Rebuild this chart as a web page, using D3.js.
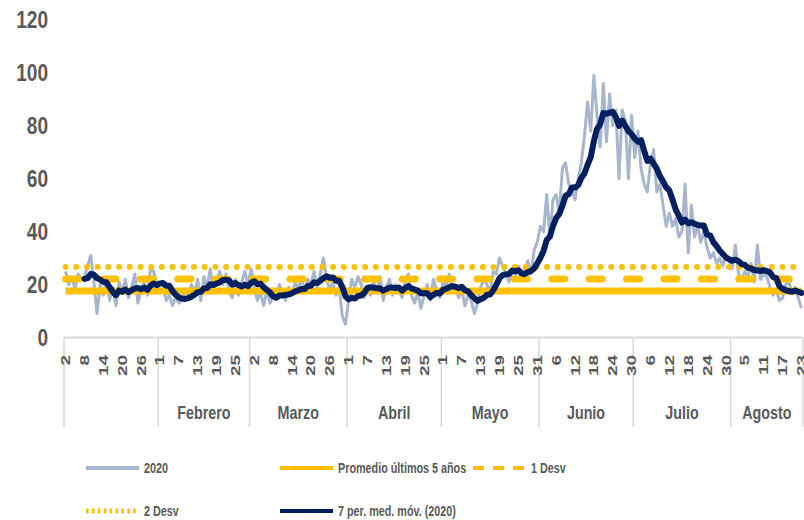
<!DOCTYPE html>
<html>
<head>
<meta charset="utf-8">
<script src="https://cdn.jsdelivr.net/npm/d3@7"></script>
<style>
	body { margin: 0; background: #fff; }
	svg { display: block; }
	text { font-family: "Liberation Sans", Arial, sans-serif; font-weight: bold; fill: #595959; }
</style>
</head>
<body>
<svg id="chart" width="804" height="520"></svg>
<script>
//Categories: every day from 2 Jan to 23 Aug 2020
var days = d3.timeDay.range(new Date(2020, 0, 2), new Date(2020, 7, 24));
var monthNames = ["", "Febrero", "Marzo", "Abril", "Mayo", "Junio", "Julio", "Agosto"];
var yTicks = [0, 20, 40, 60, 80, 100, 120];

//Daily values 2020
var values2020 = [
	25,20,23,18,24,22,23,27,31,21, 9,20,16,22,14,19,12,21,17,22, 15,19,24,13,18,21,16,26,25,20,
	17,19,14,16,12,15,13,14,18,16, 20,17,22,14,23,19,26,18,21,25, 20,24,17,15,22,16,21,25,20,
	26,19,14,17,12,18,13,16,15,20, 17,14,19,16,21,18,23,17,22,20, 25,19,24,30,22,18,21,16,19,8, 5,
	14,22,19,23,20,15,18,16,21,17, 23,14,19,22,16,20,18,15,21,24, 16,13,17,11,16,20,14,22,18,15,
	21,19,24,17,20,15,18,12,16,14, 9,13,19,22,20,17,25,24,30,27, 24,21,26,23,27,22,25,29,24,33, 36,
	42,40,54,38,52,54,47,64,66,58, 56,52,60,66,76,89,78,99,84,72, 96,74,92,80,86,60,86,82,60,84,
	68,78,64,58,55,66,71,55,58,50, 42,47,42,45,38,40,58,32,50,38, 42,36,40,34,30,32,28,30,27,31, 29,
	26,35,24,22,25,23,28,21,35,22, 24,23,19,16,18,14,15,20,21,17, 19,15,11
];

//Reference levels
var promedio5 = 17.6, desv1 = 22.1, desv2 = 26.6;
var maPeriod = 7;

var colors = {
	raw: "#A7B5CD",
	gold: "#FFC000",
	navy: "#002060",
	axis: "#D9D9D9"
};

var svg = d3.select("#chart");

var x = d3.scaleBand()
	.domain(days)
	.range([64, 803])
	.padding(0);

var y = d3.scaleLinear()
	.domain([0, 120])
	.range([337.5, 20]);

var cx = function(d){ return x(d) + x.bandwidth() / 2; };

//Horizontal text helper (squeezed like the source)
function hText(g, px, py, str, size, sx, anchor){
	return g.append("text")
		.attr("transform", "translate(" + px + "," + py + ") scale(" + sx + ",1)")
		.attr("text-anchor", anchor || "start")
		.style("font-size", size + "px")
		.text(str);
}

//Y labels
var yAxis = svg.append("g");
yTicks.forEach(function(t){
	hText(yAxis, 48, y(t), t, 23, 0.83, "end").attr("dy", "0.36em");
});

//X axis line
svg.append("line")
	.attr("x1", 64).attr("x2", 803)
	.attr("y1", y(0)).attr("y2", y(0))
	.attr("stroke", colors.axis)
	.attr("stroke-width", 2);

//Month separators
var bounds = [64];
days.forEach(function(d){ if (d.getDate() === 1) bounds.push(x(d)); });
bounds.push(803);

svg.append("g").selectAll("line")
	.data(bounds)
	.enter().append("line")
	.attr("x1", function(d){ return d; })
	.attr("x2", function(d){ return d; })
	.attr("y1", y(0))
	.attr("y2", 427)
	.attr("stroke", colors.axis)
	.attr("stroke-width", 1.5);

//Month labels
var months = svg.append("g");
monthNames.forEach(function(name, i){
	if (!name) return;
	hText(months, (bounds[i] + bounds[i + 1]) / 2, 419, name, 18.6, 0.77, "middle");
});

//Day labels every 6 days
svg.append("g").selectAll("text")
	.data(days.filter(function(d, i){ return i % 6 === 0; }))
	.enter().append("text")
	.attr("transform", function(d){ return "translate(" + cx(d) + ",355) rotate(-90) scale(1.5,1)"; })
	.attr("text-anchor", "end")
	.attr("dy", "0.36em")
	.style("font-size", "12.6px")
	.text(function(d){ return d.getDate(); });

//Series
var line = d3.line()
	.x(function(d){ return cx(d.date); })
	.y(function(d){ return y(d.value); });

var rawData = days.map(function(d, i){ return {date: d, value: values2020[i]}; });

svg.append("path")
	.datum(rawData)
	.attr("d", line)
	.attr("fill", "none")
	.attr("stroke", colors.raw)
	.attr("stroke-width", 3)
	.attr("stroke-linejoin", "round");

function levelLine(v){
	return days.map(function(d){ return {date: d, value: v}; });
}

svg.append("path")
	.datum(levelLine(promedio5))
	.attr("d", line)
	.attr("fill", "none")
	.attr("stroke", colors.gold)
	.attr("stroke-width", 7);

svg.append("path")
	.datum(levelLine(desv1))
	.attr("d", line)
	.attr("fill", "none")
	.attr("stroke", colors.gold)
	.attr("stroke-width", 7)
	.attr("stroke-linecap", "round")
	.attr("stroke-dasharray", "13,24.4");

svg.append("path")
	.datum(levelLine(desv2))
	.attr("d", line)
	.attr("fill", "none")
	.attr("stroke", colors.gold)
	.attr("stroke-width", 6)
	.attr("stroke-linecap", "round")
	.attr("stroke-dasharray", "0,10.7");

//Trailing moving average (Excel trendline)
var maData = [];
for (var i = maPeriod - 1; i < days.length; i++){
	maData.push({date: days[i], value: d3.mean(values2020.slice(i - maPeriod + 1, i + 1))});
}

svg.append("path")
	.datum(maData)
	.attr("d", line)
	.attr("fill", "none")
	.attr("stroke", colors.navy)
	.attr("stroke-width", 6)
	.attr("stroke-linejoin", "round")
	.attr("stroke-linecap", "round");

//Legend
var legend = svg.append("g");
var items = [
	{label: "2020", x: 86, y: 468, color: colors.raw, dash: null},
	{label: "Promedio últimos 5 años", x: 280, y: 468, color: colors.gold, dash: null},
	{label: "1 Desv", x: 473, y: 468, color: colors.gold, dash: "11,9"},
	{label: "2 Desv", x: 86, y: 511, color: colors.gold, dash: "2.6,3.3"},
	{label: "7 per. med. móv. (2020)", x: 280, y: 511, color: colors.navy, dash: null}
];
items.forEach(function(it){
	legend.append("line")
		.attr("x1", it.x).attr("x2", it.x + 53)
		.attr("y1", it.y).attr("y2", it.y)
		.attr("stroke", it.color)
		.attr("stroke-width", it.dash === "2.6,3.3" ? 5 : 4)
		.attr("stroke-dasharray", it.dash);
	hText(legend, it.x + 58, it.y + 5.3, it.label, 15, 0.72, "start");
});
</script>
</body>
</html>
